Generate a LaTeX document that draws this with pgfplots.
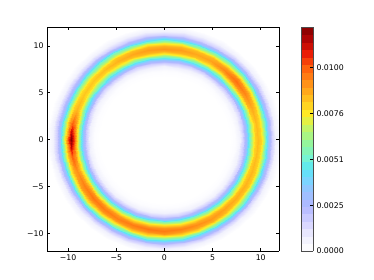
\documentclass[border=0pt]{standalone}
\usepackage{pgfplots}
\pgfplotsset{compat=1.18}
\usepackage{fontspec}
\setmainfont{DejaVu Sans}
\pgfplotsset{
  colormap={whitejet}{
    rgb(0)=(1,1,1) rgb(6)=(0.94,0.94,0.99) rgb(12)=(0.85,0.84,1)
    rgb(20)=(0.70,0.72,1) rgb(27)=(0.6,0.76,1) rgb(33)=(0.45,0.85,1)
    rgb(37)=(0.35,0.9,0.95) rgb(41)=(0.45,0.95,0.85) rgb(47)=(0.55,0.96,0.65)
    rgb(54)=(0.72,0.96,0.45) rgb(61)=(1,0.93,0.15) rgb(67)=(1,0.78,0.12)
    rgb(74)=(1,0.6,0.1) rgb(82)=(1,0.38,0.05) rgb(88)=(0.93,0.12,0.02)
    rgb(94)=(0.72,0.02,0.02) rgb(100)=(0.5,0,0)}
}
\begin{document}
\begin{tikzpicture}[x=1bp,y=1bp]
\path[use as bounding box] (0,0) rectangle (374,280);
\begin{axis}[
  at={(47bp,29bp)}, anchor=south west,
  scale only axis, width=232bp, height=224bp,
  view={0}{90},
  xmin=-12.2, xmax=11.9, ymin=-11.85, ymax=12,
  xtick={-10,-5,0,5,10}, xticklabels={−10,−5,0,5,10},
  ytick={-10,-5,0,5,10}, yticklabels={−10,−5,0,5,10},
  ztick=\empty,
  tick align=inside, major tick length=2.6bp,
  tick label style={font=\fontsize{7.8}{9}\selectfont},
  axis line style={black, line width=0.5bp},
  every tick/.style={black, line width=0.5bp},
  clip=true, axis on top,
  colormap name=whitejet,
  point meta min=0, point meta max=123.7,
  colorbar sampled,
  colorbar style={
    samples=31,
    width=11.6bp,
    at={(parent axis.right of south east)}, anchor=south west,
    xshift=13.7bp,
    ytick={0,25.3,50.6,75.9,101.2},
    yticklabels={0.0000,0.0025,0.0051,0.0076,0.0100},
    ytick pos=right, yticklabel pos=right,
    tick align=inside, major tick length=2.6bp,
    tick label style={font=\fontsize{7.8}{9}\selectfont},
    axis line style={black!70, line width=0.5bp},
  },
]
\addplot3[surf, shader=interp, data cs=polar, mesh/cols=16] coordinates {
(0,6.7,0) (0,7.3,1.3) (0,7.8,6.0) (0,8.2,16.2) (0,8.5,30.6) (0,8.8,49.3) (0,9.1,68.0) (0,9.4,80.8) (0,9.7,85) (0,10.0,80.8) (0,10.3,68.0) (0,10.6,49.3) (0,10.9,30.6) (0,11.2,16.2) (0,11.6,6.0) (0,12.1,0.9)
(10,6.7,0) (10,7.3,1.3) (10,7.8,6.0) (10,8.2,16.2) (10,8.5,30.6) (10,8.8,49.3) (10,9.1,68.0) (10,9.4,80.8) (10,9.7,85) (10,10.0,80.8) (10,10.3,68.0) (10,10.6,49.3) (10,10.9,30.6) (10,11.2,16.2) (10,11.6,6.0) (10,12.1,0.9)
(20,6.7,0) (20,7.3,1.3) (20,7.8,6.2) (20,8.2,16.7) (20,8.5,31.7) (20,8.8,51.0) (20,9.1,70.4) (20,9.4,83.6) (20,9.7,88) (20,10.0,83.6) (20,10.3,70.4) (20,10.6,51.0) (20,10.9,31.7) (20,11.2,16.7) (20,11.6,6.2) (20,12.1,0.9)
(30,6.7,0) (30,7.3,1.4) (30,7.8,6.7) (30,8.2,18.1) (30,8.5,34.2) (30,8.8,55.1) (30,9.1,76.0) (30,9.4,90.3) (30,9.7,95) (30,10.0,90.3) (30,10.3,76.0) (30,10.6,55.1) (30,10.9,34.2) (30,11.2,18.1) (30,11.6,6.7) (30,12.1,1.0)
(40,6.7,0) (40,7.3,1.5) (40,7.8,6.9) (40,8.2,18.8) (40,8.5,35.6) (40,8.8,57.4) (40,9.1,79.2) (40,9.4,94.1) (40,9.7,99) (40,10.0,94.1) (40,10.3,79.2) (40,10.6,57.4) (40,10.9,35.6) (40,11.2,18.8) (40,11.6,6.9) (40,12.1,1.0)
(50,6.7,0) (50,7.3,1.4) (50,7.8,6.7) (50,8.2,18.1) (50,8.5,34.2) (50,8.8,55.1) (50,9.1,76.0) (50,9.4,90.3) (50,9.7,95) (50,10.0,90.3) (50,10.3,76.0) (50,10.6,55.1) (50,10.9,34.2) (50,11.2,18.1) (50,11.6,6.7) (50,12.1,1.0)
(60,6.7,0) (60,7.3,1.4) (60,7.8,6.3) (60,8.2,17.1) (60,8.5,32.4) (60,8.8,52.2) (60,9.1,72.0) (60,9.4,85.5) (60,9.7,90) (60,10.0,85.5) (60,10.3,72.0) (60,10.6,52.2) (60,10.9,32.4) (60,11.2,17.1) (60,11.6,6.3) (60,12.1,0.9)
(70,6.7,0) (70,7.3,1.3) (70,7.8,6.2) (70,8.2,16.9) (70,8.5,32.0) (70,8.8,51.6) (70,9.1,71.2) (70,9.4,84.6) (70,9.7,89) (70,10.0,84.6) (70,10.3,71.2) (70,10.6,51.6) (70,10.9,32.0) (70,11.2,16.9) (70,11.6,6.2) (70,12.1,0.9)
(80,6.7,0) (80,7.3,1.4) (80,7.8,6.4) (80,8.2,17.3) (80,8.5,32.8) (80,8.8,52.8) (80,9.1,72.8) (80,9.4,86.5) (80,9.7,91) (80,10.0,86.5) (80,10.3,72.8) (80,10.6,52.8) (80,10.9,32.8) (80,11.2,17.3) (80,11.6,6.4) (80,12.1,0.9)
(90,6.7,0) (90,7.3,1.4) (90,7.8,6.4) (90,8.2,17.5) (90,8.5,33.1) (90,8.8,53.4) (90,9.1,73.6) (90,9.4,87.4) (90,9.7,92) (90,10.0,87.4) (90,10.3,73.6) (90,10.6,53.4) (90,10.9,33.1) (90,11.2,17.5) (90,11.6,6.4) (90,12.1,0.9)
(100,6.7,0) (100,7.3,1.4) (100,7.8,6.4) (100,8.2,17.3) (100,8.5,32.8) (100,8.8,52.8) (100,9.1,72.8) (100,9.4,86.5) (100,9.7,91) (100,10.0,86.5) (100,10.3,72.8) (100,10.6,52.8) (100,10.9,32.8) (100,11.2,17.3) (100,11.6,6.4) (100,12.1,0.9)
(110,6.7,0) (110,7.3,1.3) (110,7.8,6.2) (110,8.2,16.9) (110,8.5,32.0) (110,8.8,51.6) (110,9.1,71.2) (110,9.4,84.6) (110,9.7,89) (110,10.0,84.6) (110,10.3,71.2) (110,10.6,51.6) (110,10.9,32.0) (110,11.2,16.9) (110,11.6,6.2) (110,12.1,0.9)
(120,6.7,0) (120,7.3,1.3) (120,7.8,6.1) (120,8.2,16.5) (120,8.5,31.3) (120,8.8,50.5) (120,9.1,69.6) (120,9.4,82.7) (120,9.7,87) (120,10.0,82.7) (120,10.3,69.6) (120,10.6,50.5) (120,10.9,31.3) (120,11.2,16.5) (120,11.6,6.1) (120,12.1,0.9)
(130,6.7,0) (130,7.3,1.3) (130,7.8,6.0) (130,8.2,16.2) (130,8.5,30.6) (130,8.8,49.3) (130,9.1,68.0) (130,9.4,80.8) (130,9.7,85) (130,10.0,80.8) (130,10.3,68.0) (130,10.6,49.3) (130,10.9,30.6) (130,11.2,16.2) (130,11.6,6.0) (130,12.1,0.9)
(140,6.7,0) (140,7.3,1.2) (140,7.8,5.8) (140,8.2,15.8) (140,8.5,29.9) (140,8.8,48.1) (140,9.1,66.4) (140,9.4,78.9) (140,9.7,83) (140,10.0,78.9) (140,10.3,66.4) (140,10.6,48.1) (140,10.9,29.9) (140,11.2,15.8) (140,11.6,5.8) (140,12.1,0.8)
(150,6.7,0) (150,7.3,1.2) (150,7.8,5.8) (150,8.2,15.8) (150,8.5,29.9) (150,8.8,48.1) (150,9.1,66.4) (150,9.4,78.9) (150,9.7,83) (150,10.0,78.9) (150,10.3,66.4) (150,10.6,48.1) (150,10.9,29.9) (150,11.2,15.8) (150,11.6,5.8) (150,12.1,0.8)
(160,6.7,0) (160,7.3,1.3) (160,7.8,6.0) (160,8.2,16.3) (160,8.5,31.0) (160,8.8,49.9) (160,9.1,68.8) (160,9.4,81.7) (160,9.7,86) (160,10.0,81.7) (160,10.3,68.8) (160,10.6,49.9) (160,10.9,31.0) (160,11.2,16.3) (160,11.6,6.0) (160,12.1,0.9)
(170,6.7,0) (170,7.3,1.4) (170,7.8,6.7) (170,8.2,18.1) (170,8.5,34.2) (170,8.8,55.1) (170,9.1,76.7) (170,9.4,93.8) (170,9.7,102) (170,10.0,93.8) (170,10.3,76.7) (170,10.6,55.1) (170,10.9,34.2) (170,11.2,18.1) (170,11.6,6.7) (170,12.1,1.0)
(175,6.7,0) (175,7.3,1.4) (175,7.8,6.7) (175,8.2,18.1) (175,8.5,34.2) (175,8.8,55.1) (175,9.1,78) (175,9.4,100.3) (175,9.7,115) (175,10.0,100.3) (175,10.3,78) (175,10.6,55.1) (175,10.9,34.2) (175,11.2,18.1) (175,11.6,6.7) (175,12.1,1.0)
(180,6.7,0) (180,7.3,1.4) (180,7.8,6.7) (180,8.2,18.1) (180,8.5,34.2) (180,8.8,55.1) (180,9.1,79) (180,9.4,105) (180,9.7,124) (180,10.0,105) (180,10.3,79) (180,10.6,55.1) (180,10.9,34.2) (180,11.2,18.1) (180,11.6,6.7) (180,12.1,1.0)
(185,6.7,0) (185,7.3,1.4) (185,7.8,6.7) (185,8.2,18.1) (185,8.5,34.2) (185,8.8,55.1) (185,9.1,78) (185,9.4,100.3) (185,9.7,115) (185,10.0,100.3) (185,10.3,78) (185,10.6,55.1) (185,10.9,34.2) (185,11.2,18.1) (185,11.6,6.7) (185,12.1,1.0)
(190,6.7,0) (190,7.3,1.4) (190,7.8,6.7) (190,8.2,18.1) (190,8.5,34.2) (190,8.8,55.1) (190,9.1,76.7) (190,9.4,93.8) (190,9.7,102) (190,10.0,93.8) (190,10.3,76.7) (190,10.6,55.1) (190,10.9,34.2) (190,11.2,18.1) (190,11.6,6.7) (190,12.1,1.0)
(200,6.7,0) (200,7.3,1.4) (200,7.8,6.5) (200,8.2,17.7) (200,8.5,33.5) (200,8.8,53.9) (200,9.1,74.4) (200,9.4,88.4) (200,9.7,93) (200,10.0,88.4) (200,10.3,74.4) (200,10.6,53.9) (200,10.9,33.5) (200,11.2,17.7) (200,11.6,6.5) (200,12.1,0.9)
(210,6.7,0) (210,7.3,1.4) (210,7.8,6.7) (210,8.2,18.2) (210,8.5,34.6) (210,8.8,55.7) (210,9.1,76.8) (210,9.4,91.2) (210,9.7,96) (210,10.0,91.2) (210,10.3,76.8) (210,10.6,55.7) (210,10.9,34.6) (210,11.2,18.2) (210,11.6,6.7) (210,12.1,1.0)
(220,6.7,0) (220,7.3,1.5) (220,7.8,6.9) (220,8.2,18.6) (220,8.5,35.3) (220,8.8,56.8) (220,9.1,78.4) (220,9.4,93.1) (220,9.7,98) (220,10.0,93.1) (220,10.3,78.4) (220,10.6,56.8) (220,10.9,35.3) (220,11.2,18.6) (220,11.6,6.9) (220,12.1,1.0)
(230,6.7,0) (230,7.3,1.5) (230,7.8,6.8) (230,8.2,18.4) (230,8.5,34.9) (230,8.8,56.3) (230,9.1,77.6) (230,9.4,92.2) (230,9.7,97) (230,10.0,92.2) (230,10.3,77.6) (230,10.6,56.3) (230,10.9,34.9) (230,11.2,18.4) (230,11.6,6.8) (230,12.1,1.0)
(240,6.7,0) (240,7.3,1.4) (240,7.8,6.7) (240,8.2,18.2) (240,8.5,34.6) (240,8.8,55.7) (240,9.1,76.8) (240,9.4,91.2) (240,9.7,96) (240,10.0,91.2) (240,10.3,76.8) (240,10.6,55.7) (240,10.9,34.6) (240,11.2,18.2) (240,11.6,6.7) (240,12.1,1.0)
(250,6.7,0) (250,7.3,1.5) (250,7.8,6.8) (250,8.2,18.4) (250,8.5,34.9) (250,8.8,56.3) (250,9.1,77.6) (250,9.4,92.2) (250,9.7,97) (250,10.0,92.2) (250,10.3,77.6) (250,10.6,56.3) (250,10.9,34.9) (250,11.2,18.4) (250,11.6,6.8) (250,12.1,1.0)
(260,6.7,0) (260,7.3,1.5) (260,7.8,6.9) (260,8.2,18.6) (260,8.5,35.3) (260,8.8,56.8) (260,9.1,78.4) (260,9.4,93.1) (260,9.7,98) (260,10.0,93.1) (260,10.3,78.4) (260,10.6,56.8) (260,10.9,35.3) (260,11.2,18.6) (260,11.6,6.9) (260,12.1,1.0)
(270,6.7,0) (270,7.3,1.5) (270,7.8,6.8) (270,8.2,18.4) (270,8.5,34.9) (270,8.8,56.3) (270,9.1,77.6) (270,9.4,92.2) (270,9.7,97) (270,10.0,92.2) (270,10.3,77.6) (270,10.6,56.3) (270,10.9,34.9) (270,11.2,18.4) (270,11.6,6.8) (270,12.1,1.0)
(280,6.7,0) (280,7.3,1.4) (280,7.8,6.7) (280,8.2,18.2) (280,8.5,34.6) (280,8.8,55.7) (280,9.1,76.8) (280,9.4,91.2) (280,9.7,96) (280,10.0,91.2) (280,10.3,76.8) (280,10.6,55.7) (280,10.9,34.6) (280,11.2,18.2) (280,11.6,6.7) (280,12.1,1.0)
(290,6.7,0) (290,7.3,1.4) (290,7.8,6.6) (290,8.2,17.9) (290,8.5,33.8) (290,8.8,54.5) (290,9.1,75.2) (290,9.4,89.3) (290,9.7,94) (290,10.0,89.3) (290,10.3,75.2) (290,10.6,54.5) (290,10.9,33.8) (290,11.2,17.9) (290,11.6,6.6) (290,12.1,0.9)
(300,6.7,0) (300,7.3,1.4) (300,7.8,6.4) (300,8.2,17.5) (300,8.5,33.1) (300,8.8,53.4) (300,9.1,73.6) (300,9.4,87.4) (300,9.7,92) (300,10.0,87.4) (300,10.3,73.6) (300,10.6,53.4) (300,10.9,33.1) (300,11.2,17.5) (300,11.6,6.4) (300,12.1,0.9)
(310,6.7,0) (310,7.3,1.4) (310,7.8,6.3) (310,8.2,17.1) (310,8.5,32.4) (310,8.8,52.2) (310,9.1,72.0) (310,9.4,85.5) (310,9.7,90) (310,10.0,85.5) (310,10.3,72.0) (310,10.6,52.2) (310,10.9,32.4) (310,11.2,17.1) (310,11.6,6.3) (310,12.1,0.9)
(320,6.7,0) (320,7.3,1.3) (320,7.8,6.2) (320,8.2,16.7) (320,8.5,31.7) (320,8.8,51.0) (320,9.1,70.4) (320,9.4,83.6) (320,9.7,88) (320,10.0,83.6) (320,10.3,70.4) (320,10.6,51.0) (320,10.9,31.7) (320,11.2,16.7) (320,11.6,6.2) (320,12.1,0.9)
(330,6.7,0) (330,7.3,1.3) (330,7.8,6.1) (330,8.2,16.5) (330,8.5,31.3) (330,8.8,50.5) (330,9.1,69.6) (330,9.4,82.7) (330,9.7,87) (330,10.0,82.7) (330,10.3,69.6) (330,10.6,50.5) (330,10.9,31.3) (330,11.2,16.5) (330,11.6,6.1) (330,12.1,0.9)
(340,6.7,0) (340,7.3,1.3) (340,7.8,6.0) (340,8.2,16.3) (340,8.5,31.0) (340,8.8,49.9) (340,9.1,68.8) (340,9.4,81.7) (340,9.7,86) (340,10.0,81.7) (340,10.3,68.8) (340,10.6,49.9) (340,10.9,31.0) (340,11.2,16.3) (340,11.6,6.0) (340,12.1,0.9)
(350,6.7,0) (350,7.3,1.3) (350,7.8,6.0) (350,8.2,16.2) (350,8.5,30.6) (350,8.8,49.3) (350,9.1,68.0) (350,9.4,80.8) (350,9.7,85) (350,10.0,80.8) (350,10.3,68.0) (350,10.6,49.3) (350,10.9,30.6) (350,11.2,16.2) (350,11.6,6.0) (350,12.1,0.9)
(360,6.7,0) (360,7.3,1.3) (360,7.8,6.0) (360,8.2,16.2) (360,8.5,30.6) (360,8.8,49.3) (360,9.1,68.0) (360,9.4,80.8) (360,9.7,85) (360,10.0,80.8) (360,10.3,68.0) (360,10.6,49.3) (360,10.9,30.6) (360,11.2,16.2) (360,11.6,6.0) (360,12.1,0.9)
};
\end{axis}
\end{tikzpicture}
\end{document}
